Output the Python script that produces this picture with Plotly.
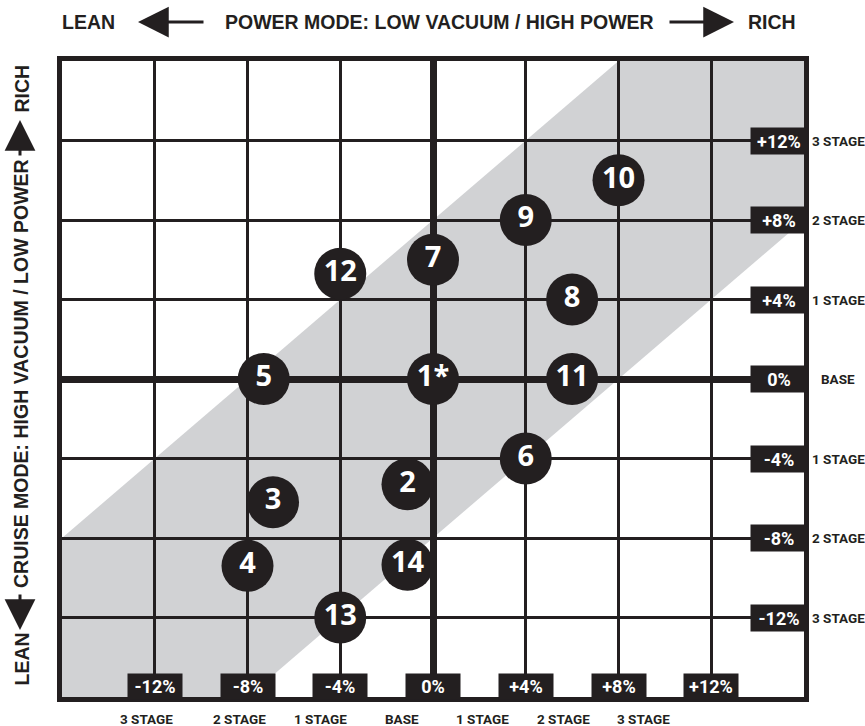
import plotly.graph_objects as go

# ---------------- data ----------------
POINT_LABELS = ["1*", "2", "3", "4", "5", "6", "7", "8", "9", "10", "11", "12", "13", "14"]
POINT_X = [0, -1.1, -6.9, -8, -7.3, 4, 0, 6, 4, 8, 6, -4, -4, -1.1]
POINT_Y = [0, -5.3, -6.2, -9.4, 0, -4, 6, 4, 8, 10, 0, 5.3, -12, -9.35]

TICK_VALUES = [-12, -8, -4, 0, 4, 8, 12]
X_TICK_LABELS = ["-12%", "-8%", "-4%", "0%", "+4%", "+8%", "+12%"]
Y_TICK_LABELS = ["-12%", "-8%", "-4%", "0%", "+4%", "+8%", "+12%"]
STAGE_LABELS = ["3 STAGE", "2 STAGE", "1 STAGE", "BASE", "1 STAGE", "2 STAGE", "3 STAGE"]
AXIS_RANGE = [-16, 16]
BAND_OFFSET = 8  # half width of the diagonal band (in % units)

TOP_TITLE = "POWER MODE: LOW VACUUM / HIGH POWER"
LEFT_TITLE = "CRUISE MODE: HIGH VACUUM / LOW POWER"
LEAN_TXT = "LEAN"
RICH_TXT = "RICH"

# ---------------- style ----------------
INK = "#231f20"
BAND = "#d1d2d4"
W, H = 865, 726
M_L, M_R, M_T, M_B = 62, 61, 61, 29
PLOT_W = W - M_L - M_R
PLOT_H = H - M_T - M_B
NARROW = "Roboto, Liberation Sans Narrow, Arial Narrow, sans-serif"
SANS = "Liberation Sans, Arial, sans-serif"
BOTTOM_STAGE_SHIFT_PX = [-8, -8, -20, -31, -43, -55, -68]


def paper(xpx, ypx):
    return (xpx - M_L) / PLOT_W, (H - M_B - ypx) / PLOT_H


fig = go.Figure()

# diagonal band polygon, clipped to the axis range
lo, hi = AXIS_RANGE
band_pts = [(lo, lo), (lo, lo + BAND_OFFSET), (hi - BAND_OFFSET, hi),
            (hi, hi), (hi, hi - BAND_OFFSET), (lo + BAND_OFFSET, lo)]
path = "M " + " L ".join(f"{px},{py}" for px, py in band_pts) + " Z"
fig.add_shape(type="path", path=path, xref="x", yref="y",
              fillcolor=BAND, line=dict(width=0), layer="below")

fig.add_trace(go.Scatter(
    x=POINT_X, y=POINT_Y, text=POINT_LABELS,
    mode="markers+text", textposition="middle center",
    marker=dict(size=52, color=INK, line=dict(width=0)),
    textfont=dict(color="white", size=29, family="Open Sans, sans-serif", weight="bold"),
    cliponaxis=False, hoverinfo="skip",
))

axis_style = dict(
    range=AXIS_RANGE, tickmode="linear", tick0=0, dtick=4,
    showticklabels=False, ticks="",
    showgrid=True, gridcolor=INK, gridwidth=2.5,
    zeroline=True, zerolinecolor=INK, zerolinewidth=6.5,
    showline=True, linecolor=INK, linewidth=5, mirror=True,
    fixedrange=True,
)
fig.update_xaxes(**axis_style)
fig.update_yaxes(**axis_style)

ann = []
# bottom boxed tick labels + stage labels
for i, (v, lab, st) in enumerate(zip(TICK_VALUES, X_TICK_LABELS, STAGE_LABELS)):
    ann.append(dict(x=v, y=AXIS_RANGE[0], xref="x", yref="y", text=f"<b>{lab}</b>",
                    showarrow=False, xanchor="center", yanchor="bottom", yshift=-3,
                    width=54, height=25, bgcolor=INK, borderpad=0,
                    font=dict(color="white", size=18, family=NARROW)))
    ann.append(dict(x=v, y=AXIS_RANGE[0], xref="x", yref="y", text=f"<b>{st}</b>",
                    showarrow=False, xanchor="center", yanchor="middle",
                    yshift=-22, xshift=BOTTOM_STAGE_SHIFT_PX[i],
                    font=dict(color=INK, size=13.5, family=NARROW)))
# right boxed tick labels + stage labels
for v, lab, st in zip(TICK_VALUES, Y_TICK_LABELS, STAGE_LABELS):
    ann.append(dict(x=AXIS_RANGE[1], y=v, xref="x", yref="y", text=f"<b>{lab}</b>",
                    showarrow=False, xanchor="right", yanchor="middle", xshift=4,
                    width=56, height=26, bgcolor=INK, borderpad=0,
                    font=dict(color="white", size=18, family=NARROW)))
    ann.append(dict(x=AXIS_RANGE[1], y=v, xref="x", yref="y", text=f"<b>{st}</b>",
                    showarrow=False, xanchor="center", yanchor="middle", xshift=34,
                    font=dict(color=INK, size=13.5, family=NARROW)))

title_font = dict(color=INK, size=19.5, family=SANS)


def txt(xpx, ypx, s, angle=0):
    px_, py_ = paper(xpx, ypx)
    return dict(x=px_, y=py_, xref="paper", yref="paper", text=f"<b>{s}</b>",
                showarrow=False, xanchor="center", yanchor="middle",
                textangle=angle, font=title_font)


def arrow(tipx, tipy, tailx, taily):
    px_, py_ = paper(tipx, tipy)
    return dict(x=px_, y=py_, xref="paper", yref="paper", text="",
                showarrow=True, axref="pixel", ayref="pixel",
                ax=tailx - tipx, ay=taily - tipy,
                arrowhead=2, arrowsize=2.05, arrowwidth=3, arrowcolor=INK,
                standoff=0, startstandoff=0)


# top title
ann.append(txt(88.5, 22, LEAN_TXT))
ann.append(txt(439, 22, TOP_TITLE))
ann.append(txt(771.5, 22, RICH_TXT))
ann.append(arrow(138, 22, 205, 22))
ann.append(arrow(734, 22, 668, 22))
# left title
ann.append(txt(21, 88.5, RICH_TXT, -90))
ann.append(txt(21, 374, LEFT_TITLE, -90))
ann.append(txt(21, 659.5, LEAN_TXT, -90))
ann.append(arrow(20, 120, 20, 157))
ann.append(arrow(20, 630, 20, 593))

fig.update_layout(
    width=W, height=H,
    margin=dict(l=M_L, r=M_R, t=M_T, b=M_B, pad=0),
    paper_bgcolor="white", plot_bgcolor="white",
    showlegend=False, annotations=ann,
)

fig.write_html("out.html", config={"displayModeBar": False},
               post_script="document.body.style.margin='0';document.body.style.overflow='hidden';")
